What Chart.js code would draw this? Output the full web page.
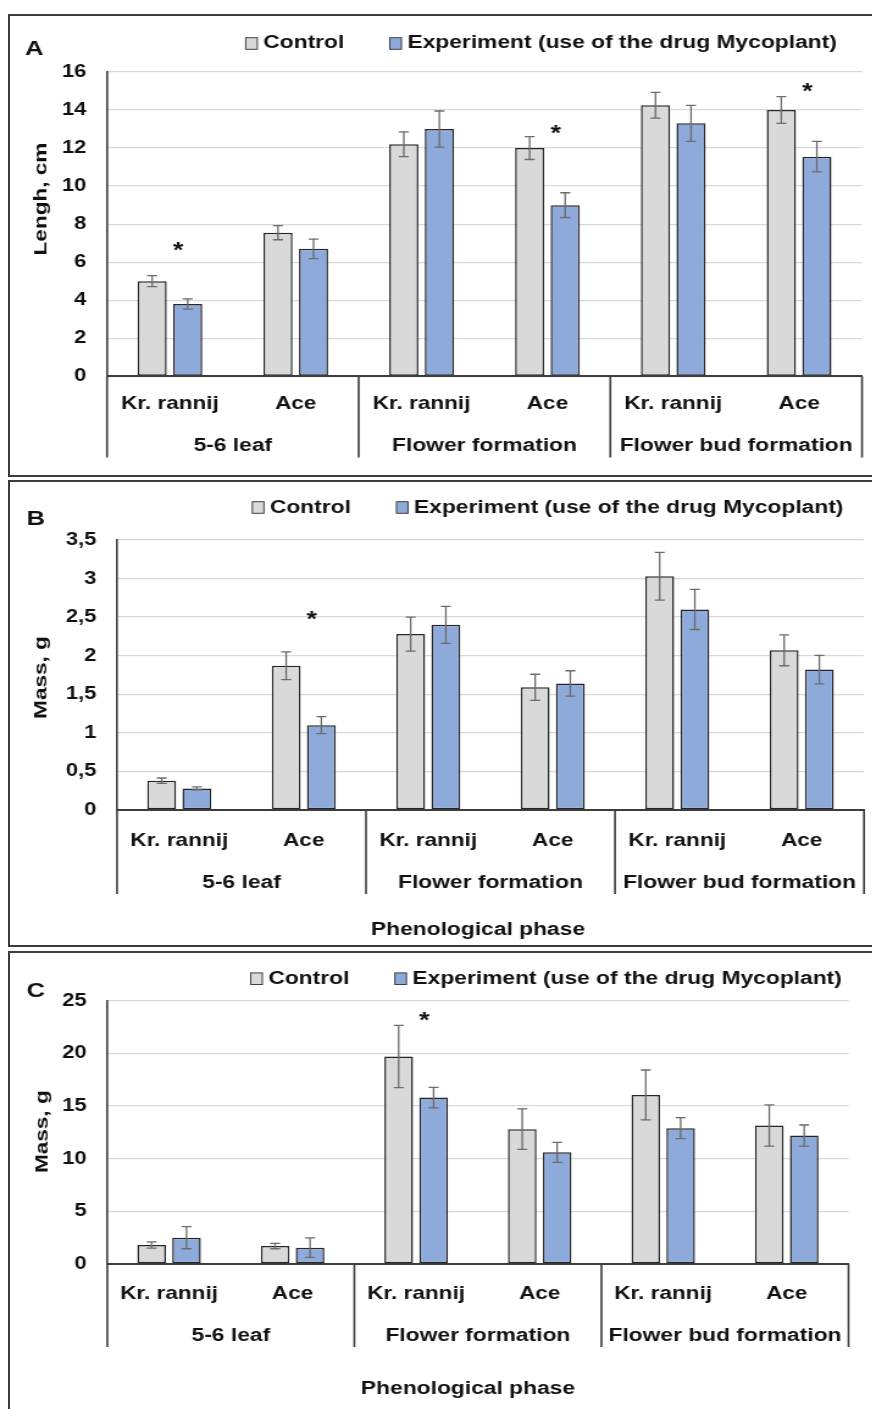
<!DOCTYPE html>
<html>
<head>
<meta charset="utf-8">
<script src="https://cdn.jsdelivr.net/npm/chart.js@4.4.1/dist/chart.umd.min.js"></script>
<style>
  html, body { margin: 0; padding: 0; background: #fff; }
  body { width: 872px; height: 1409px; overflow: hidden; position: relative; }
  .frame { position: absolute; left: 8px; width: 900px; border: 2px solid #3c3c3c; box-sizing: border-box; }
  canvas.panel { position: absolute; left: 0; transform-origin: 0 0; transform: scaleX(1.22); }
</style>
</head>
<body>
<div class="frame" style="top:14px;height:463px"></div>
<div class="frame" style="top:480px;height:467px"></div>
<div class="frame" style="top:951px;height:520px"></div>
<canvas id="panelA" class="panel" style="top:15px" width="715" height="461"></canvas>
<canvas id="panelB" class="panel" style="top:481px" width="715" height="465"></canvas>
<canvas id="panelC" class="panel" style="top:952px" width="715" height="457"></canvas>
<script>
// ---- data ---------------------------------------------------------------
const phases = ['5-6 leaf', 'Flower formation', 'Flower bud formation'];
const cultivars = ['Kr. rannij', 'Ace'];
const seriesNames = ['Control', 'Experiment (use of the drug Mycoplant)'];

// A: length, cm
const lengthControl = [5.0, 7.55, 12.2, 12.0, 14.25, 14.0];
const lengthControlErr = [0.29, 0.37, 0.65, 0.6, 0.68, 0.7];
const lengthExperiment = [3.8, 6.7, 13.0, 9.0, 13.3, 11.55];
const lengthExperimentErr = [0.27, 0.51, 0.95, 0.65, 0.95, 0.8];
const lengthSignificance = [6.95, null, null, 13.1, null, 15.3];
const lengthTicks = ['0', '2', '4', '6', '8', '10', '12', '14', '16'];

// B: mass, g
const massBControl = [0.38, 1.87, 2.28, 1.59, 3.03, 2.07];
const massBControlErr = [0.035, 0.18, 0.22, 0.17, 0.31, 0.2];
const massBExperiment = [0.28, 1.1, 2.4, 1.64, 2.6, 1.82];
const massBExperimentErr = [0.02, 0.11, 0.24, 0.165, 0.26, 0.185];
const massBSignificance = [null, 2.54, null, null, null, null];
const massBTicks = ['0', '0,5', '1', '1,5', '2', '2,5', '3', '3,5'];

// C: mass, g
const massCControl = [1.8, 1.7, 19.7, 12.8, 16.05, 13.15];
const massCControlErr = [0.3, 0.25, 2.95, 1.92, 2.37, 1.95];
const massCExperiment = [2.5, 1.55, 15.8, 10.6, 12.9, 12.2];
const massCExperimentErr = [1.05, 0.93, 0.97, 0.95, 1.0, 1.0];
const massCSignificance = [null, null, 23.65, null, null, null];
const massCTicks = ['0', '5', '10', '15', '20', '25'];

// ---- drawing ------------------------------------------------------------
const S = 1.22;               // horizontal text stretch (applied to the canvases by CSS)
const CANVAS_W = 715;
const FONT = '"Liberation Sans", Arial, sans-serif';
const INK = '#111111';
const LINE = '#3c3c3c';
const categories = phases.flatMap(() => cultivars);

function decorations(cfg) {
  return {
    id: 'panelDecor',
    afterDatasetsDraw(chart) {
      const { ctx } = chart;
      const ys = chart.scales.y, xs = chart.scales.x;
      ctx.save();
      // error bars
      ctx.strokeStyle = '#6b6b6b';
      ctx.lineWidth = 1.3;
      const cap = 5 / S;
      chart.data.datasets.forEach((ds, di) => {
        chart.getDatasetMeta(di).data.forEach((bar, i) => {
          const v = ds.data[i], e = ds.errors[i];
          const t = ys.getPixelForValue(v + e), b = ys.getPixelForValue(v - e);
          ctx.beginPath();
          ctx.moveTo(bar.x, t); ctx.lineTo(bar.x, b);
          ctx.moveTo(bar.x - cap, t); ctx.lineTo(bar.x + cap, t);
          ctx.moveTo(bar.x - cap, b); ctx.lineTo(bar.x + cap, b);
          ctx.stroke();
        });
      });
      // significance marks
      const catW = xs.getPixelForValue(1) - xs.getPixelForValue(0);
      ctx.fillStyle = INK;
      ctx.font = 'bold 22px ' + FONT;
      ctx.textAlign = 'center';
      ctx.textBaseline = 'alphabetic';
      cfg.marks.forEach((lvl, i) => {
        if (lvl === null) return;
        ctx.fillText('*', xs.getPixelForValue(i) + 0.065 * catW, ys.getPixelForValue(lvl) + 0.565 * 22);
      });
      ctx.restore();
    },
    afterDraw(chart) {
      const { ctx, chartArea: ca } = chart;
      const xs = chart.scales.x;
      const n = cultivars.length;
      ctx.save();
      // phase separators below the category axis
      const seps = [ca.left];
      for (let g = 1; g < phases.length; g++) {
        seps.push((xs.getPixelForValue(g * n - 1) + xs.getPixelForValue(g * n)) / 2);
      }
      seps.push(ca.right);
      ctx.strokeStyle = LINE;
      ctx.lineWidth = 1.6;
      ctx.beginPath();
      seps.forEach(px => { ctx.moveTo(px, ca.bottom); ctx.lineTo(px, ca.bottom + cfg.sepLen); });
      ctx.stroke();

      ctx.fillStyle = INK;
      ctx.textBaseline = 'alphabetic';
      // phase labels
      ctx.font = 'bold 18.7px ' + FONT;
      ctx.textAlign = 'center';
      phases.forEach((p, g) => {
        const cx = (xs.getPixelForValue(g * n) + xs.getPixelForValue(g * n + n - 1)) / 2;
        ctx.fillText(p, cx, ca.bottom + cfg.groupBase);
      });
      // x axis title
      if (cfg.xTitle) {
        ctx.fillText(cfg.xTitle, cfg.xTitleX / S, cfg.xTitleBase);
      }
      // panel letter
      ctx.font = 'bold 21px ' + FONT;
      ctx.fillText(cfg.letter, cfg.letterX / S, cfg.letterBase);

      // legend
      ctx.font = 'bold 18.7px ' + FONT;
      ctx.textAlign = 'left';
      const bw = 11.6 / S, bh = 11.6;
      let lx = cfg.legendX / S;
      chart.data.datasets.forEach(ds => {
        ctx.fillStyle = ds.backgroundColor;
        ctx.fillRect(lx, cfg.legendMid - bh / 2, bw, bh);
        ctx.strokeStyle = '#404040';
        ctx.lineWidth = 1;
        ctx.strokeRect(lx, cfg.legendMid - bh / 2, bw, bh);
        ctx.fillStyle = INK;
        const tx = lx + bw + 4.9;
        ctx.fillText(ds.label, tx, cfg.legendBase);
        lx = tx + ctx.measureText(ds.label).width + 37.3;
      });

      // y axis title, rotated; its letters keep the same stretch along the text
      ctx.font = 'bold 18.5px ' + FONT;
      ctx.textAlign = 'center';
      ctx.translate(cfg.yTitleX / S, cfg.yTitleY);
      ctx.scale(1 / S, 1);
      ctx.rotate(-Math.PI / 2);
      ctx.scale(S, 1);
      ctx.fillText(cfg.yTitle, 0, 0);
      ctx.restore();
    }
  };
}

function tickValues(labels) {
  return labels.map(t => parseFloat(t.replace(',', '.')));
}

function makePanel(id, cfg) {
  const canvas = document.getElementById(id);
  const H = canvas.height;
  const tv = tickValues(cfg.ticks);
  return new Chart(canvas, {
    type: 'bar',
    data: {
      labels: categories,
      datasets: [
        { label: seriesNames[0], data: cfg.control, errors: cfg.controlErr, backgroundColor: '#d9d9d9' },
        { label: seriesNames[1], data: cfg.experiment, errors: cfg.experimentErr, backgroundColor: '#8eaadb' }
      ]
    },
    options: {
      responsive: false,
      animation: false,
      events: [],
      datasets: {
        bar: {
          barPercentage: 0.82,
          categoryPercentage: 0.565,
          borderColor: '#262626',
          borderWidth: 1.5,
          borderSkipped: false
        }
      },
      layout: { padding: { left: 0, top: cfg.top, right: CANVAS_W - cfg.right / S, bottom: 0 } },
      plugins: { legend: { display: false }, tooltip: { enabled: false }, title: { display: false } },
      scales: {
        x: {
          type: 'category',
          offset: true,
          grid: { display: false, drawTicks: false },
          border: { display: true, color: LINE, width: 2, z: 1 },
          ticks: {
            autoSkip: false, maxRotation: 0, minRotation: 0,
            padding: cfg.xTickPad, color: INK,
            font: { family: FONT, size: 18.5, weight: 'bold' }
          },
          afterFit: s => { s.height = H - cfg.bottom; }
        },
        y: {
          min: tv[0],
          max: tv[tv.length - 1],
          grid: { color: '#d9d9d9', lineWidth: 1.3, drawTicks: false },
          border: { display: true, color: LINE, width: 1.6 },
          ticks: {
            stepSize: tv[1] - tv[0],
            padding: 17, color: INK,
            font: { family: FONT, size: 18, weight: 'bold' },
            callback: (v, i) => cfg.ticks[i]
          },
          afterFit: s => { s.width = cfg.left / S; }
        }
      }
    },
    plugins: [decorations(cfg)]
  });
}

Chart.defaults.font.family = FONT;

makePanel('panelA', {
  control: lengthControl, controlErr: lengthControlErr,
  experiment: lengthExperiment, experimentErr: lengthExperimentErr,
  marks: lengthSignificance, ticks: lengthTicks,
  left: 107, right: 862, top: 57, bottom: 361.3, xTickPad: 16.9,
  letter: 'A', letterX: 34.2, letterBase: 39.5,
  legendX: 245.7, legendMid: 28.5, legendBase: 33.4,
  yTitle: 'Lengh, cm', yTitleX: 46.5, yTitleY: 184,
  groupBase: 74.7, sepLen: 81.2, xTitle: null
});

makePanel('panelB', {
  control: massBControl, controlErr: massBControlErr,
  experiment: massBExperiment, experimentErr: massBExperimentErr,
  marks: massBSignificance, ticks: massBTicks,
  left: 117, right: 864, top: 59, bottom: 329, xTickPad: 19.8,
  letter: 'B', letterX: 35.8, letterBase: 43.5,
  legendX: 252.3, legendMid: 26.5, legendBase: 32.4,
  yTitle: 'Mass, g', yTitleX: 46.7, yTitleY: 196.5,
  groupBase: 78.3, sepLen: 84,
  xTitle: 'Phenological phase', xTitleX: 478, xTitleBase: 453.7
});

makePanel('panelC', {
  control: massCControl, controlErr: massCControlErr,
  experiment: massCExperiment, experimentErr: massCExperimentErr,
  marks: massCSignificance, ticks: massCTicks,
  left: 107.3, right: 848.5, top: 48.7, bottom: 312, xTickPad: 19.2,
  letter: 'C', letterX: 35.7, letterBase: 45.2,
  legendX: 250.7, legendMid: 26.7, legendBase: 32.2,
  yTitle: 'Mass, g', yTitleX: 47, yTitleY: 179.7,
  groupBase: 77, sepLen: 83,
  xTitle: 'Phenological phase', xTitleX: 468, xTitleBase: 442
});
</script>
</body>
</html>
